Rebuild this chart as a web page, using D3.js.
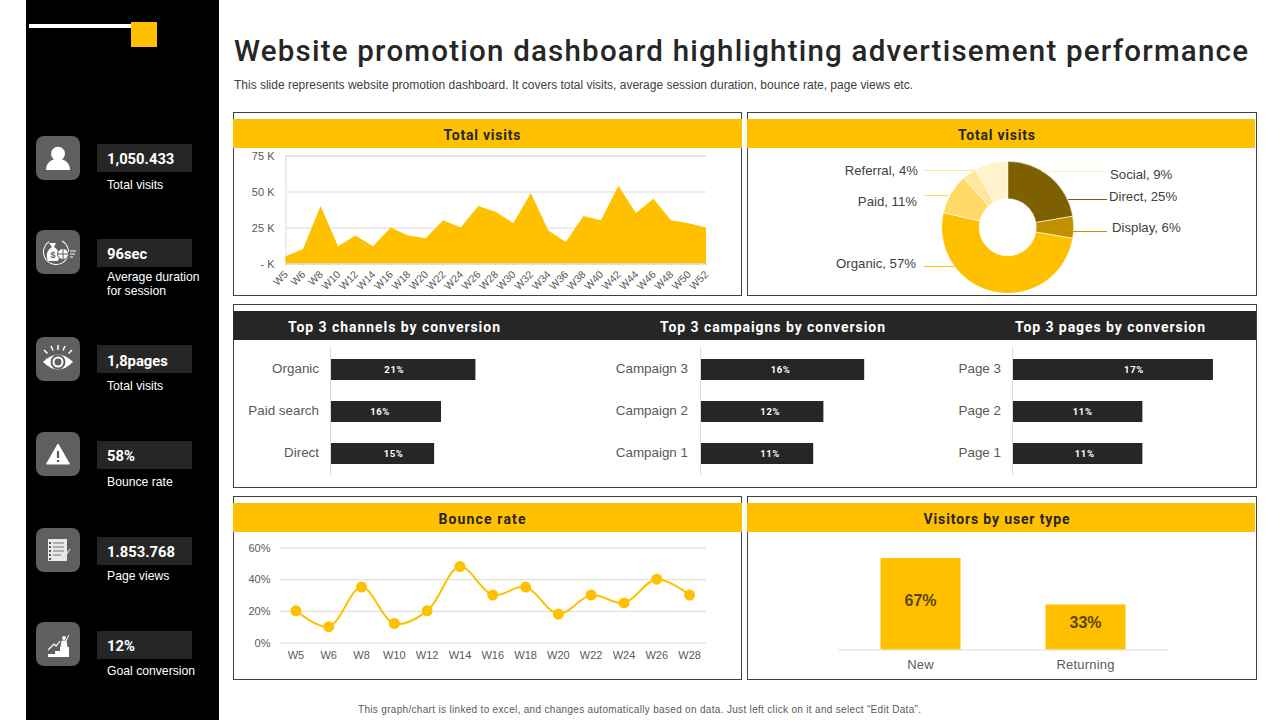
<!DOCTYPE html>
<html>
<head>
<meta charset="utf-8">
<script src="https://d3js.org/d3.v7.min.js"></script>
<style>
  body { margin: 0; background: #fff; }
  svg { display: block; }
  text { font-family: "Liberation Sans", Arial, sans-serif; }
  .din { font-family: Roboto, sans-serif; }
</style>
</head>
<body>
<script>
// chart data
var visitWeeks = ["W5","W6","W8","W10","W12","W14","W16","W18","W20","W22","W24","W26","W28","W30","W32","W34","W36","W38","W40","W42","W44","W46","W48","W50","W52"];
var visitValues = [5,10,40,12,19.5,12,25,19.5,17.5,30,25,40,36,28,49,23,15,33,30,54,35,45,30,28,25];
var visitTicks = [0,25,50,75];

var sourceNames = ["Direct","Display","Organic","Paid","Referral","Social"];
var sourceValues = [25,6,57,11,4,9];

var channelNames = ["Organic","Paid search","Direct"];
var channelValues = [21,16,15];
var campaignNames = ["Campaign 3","Campaign 2","Campaign 1"];
var campaignValues = [16,12,11];
var pageNames = ["Page 3","Page 2","Page 1"];
var pageValues = [17,11,11];

var bounceWeeks = ["W5","W6","W8","W10","W12","W14","W16","W18","W20","W22","W24","W26","W28"];
var bounceValues = [20,10,35,12,20,48,30,35,18,30,25,40,30];
var bounceTicks = [0,20,40,60];

var userTypes = ["New","Returning"];
var userValues = [67,33];

var kpiValues = ["1,050.433","96sec","1,8pages","58%","1.853.768","12%"];
var kpiLabels = [["Total visits"],["Average duration","for session"],["Total visits"],["Bounce rate"],["Page views"],["Goal conversion"]];

var YELLOW = "#ffc000", DARK = "#262626", GREY = "#595959", GRID = "#d9d9d9";

var svg = d3.select("body").append("svg").attr("width", 1280).attr("height", 720);

function label(g, x, y, str, size, fill, anchor) {
  return g.append("text").attr("x", x).attr("y", y).attr("dy", "0.35em")
    .attr("font-size", size).attr("fill", fill).attr("text-anchor", anchor || "start").text(str);
}

/* sidebar */
svg.append("rect").attr("x", 26).attr("y", 0).attr("width", 193).attr("height", 720).attr("fill", "#000");
svg.append("rect").attr("x", 29).attr("y", 24).attr("width", 103).attr("height", 4).attr("fill", "#fff");
svg.append("rect").attr("x", 131).attr("y", 22).attr("width", 26).attr("height", 25).attr("fill", YELLOW);

var tileY = [136,230,337,432,528,622];
var boxY = [144,239,345,441,537,631];
var kpiTextY = [158.5,254,361,455.5,551.5,645.5];
var kpiLabelY = [184.5,277,385.5,481.5,575.5,671];

var icons = [
  function (g) {
    g.append("circle").attr("cy", -4.3).attr("r", 7).attr("fill", "#fff");
    g.append("path").attr("d", "M-12,12 C-12,4 -6,2 -3,1 L3,1 C6,2 12,4 12,12 Z").attr("fill", "#fff");
  },
  function (g) {
    g.append("path").attr("d", d3.arc()({innerRadius: 12, outerRadius: 13, startAngle: 0.5, endAngle: 5.7})).attr("fill", "#fff").attr("transform", "translate(-2,0)");
    g.append("path").attr("d", "M-10,9 C-13,3 -10,-3 -6,-5 L-9,-9 L-2,-9 L-4,-5 C0,-3 3,3 0,9 Z").attr("fill", "#fff");
    g.append("circle").attr("cx", 5).attr("cy", 2).attr("r", 5.5).attr("fill", "#fff").attr("stroke", "#5f5f5f");
    g.append("path").attr("d", "M0,2 H10 M5,-3 V7").attr("stroke", "#5f5f5f").attr("fill", "none");
    g.append("path").attr("d", "M12,-1 H18 M12,2 H17 M12,5 H15").attr("stroke", "#fff").attr("fill", "none");
    label(g, -5, 3, "$", 9, "#5f5f5f", "middle").attr("font-weight", "bold");
  },
  function (g) {
    g.append("path").attr("d", "M-15,3 Q0,-12 15,3 Q0,18 -15,3 Z").attr("fill", "#fff");
    g.append("circle").attr("cy", 3).attr("r", 6.5).attr("fill", "none").attr("stroke", "#5f5f5f").attr("stroke-width", 2);
    g.append("circle").attr("cy", 3).attr("r", 3.5).attr("fill", "#5f5f5f");
    g.append("path").attr("d", "M0,-14 V-9 M-7,-13 L-5,-8.5 M7,-13 L5,-8.5 M-14,-9 L-10.5,-5.5 M14,-9 L10.5,-5.5")
      .attr("stroke", "#fff").attr("stroke-width", 1.5);
  },
  function (g) {
    g.append("path").attr("d", "M0,-10 L11.5,10 L-11.5,10 Z").attr("fill", "#fff").attr("stroke", "#fff").attr("stroke-linejoin", "round");
    g.append("path").attr("d", "M0,-3 V4").attr("stroke", "#5f5f5f").attr("stroke-width", 2.2);
    g.append("circle").attr("cy", 7).attr("r", 1.3).attr("fill", "#5f5f5f");
  },
  function (g) {
    g.append("rect").attr("x", -10).attr("y", -11).attr("width", 19).attr("height", 22).attr("fill", "#e8e8e8");
    g.append("path").attr("d", "M-5,-7 H6 M-5,-3 H6 M-5,1 H6 M-5,5 H3").attr("stroke", "#777").attr("stroke-width", 1.2);
    g.append("path").attr("d", "M-9,-7 H-7 M-9,-3 H-7 M-9,1 H-7 M-9,5 H-7 M-9,9 H-7").attr("stroke", "#555").attr("stroke-width", 2);
    g.append("path").attr("d", "M6,8 L12,-1").attr("stroke", "#ddd").attr("stroke-width", 1.2);
  },
  function (g) {
    g.append("path").attr("d", "M-10,13 V10 H-3 V7 H2 V3 H11 V13 Z").attr("fill", "#fff");
    g.append("path").attr("d", "M-10,6 L-4,0 L-2,2 L2,-3").attr("stroke", "#fff").attr("fill", "none").attr("stroke-width", 1.2);
    g.append("circle").attr("cx", 6).attr("cy", -6).attr("r", 2).attr("fill", "#fff");
    g.append("path").attr("d", "M3,3 L4,-3 L8,-3 L9,3 Z M8,-3 L11,-9").attr("fill", "#fff").attr("stroke", "#fff");
  }
];

kpiValues.forEach(function (v, i) {
  svg.append("rect").attr("x", 36).attr("y", tileY[i]).attr("width", 44).attr("height", 44).attr("rx", 8).attr("fill", "#5f5f5f");
  icons[i](svg.append("g").attr("transform", "translate(58," + (tileY[i] + 22) + ")"));
  svg.append("rect").attr("x", 97).attr("y", boxY[i]).attr("width", 95).attr("height", 28).attr("fill", DARK);
  label(svg, 107, kpiTextY[i], v, 14.8, "#fff").attr("class", "din").attr("font-weight", 700);
  kpiLabels[i].forEach(function (t, j) {
    label(svg, 107, kpiLabelY[i] + j * 14, t, 12.2, "#fff");
  });
});

/* title block */
label(svg, 234, 50.5, "Website promotion dashboard highlighting advertisement performance", 29.5, DARK)
  .attr("class", "din").attr("font-weight", 500).attr("textLength", 1014).attr("lengthAdjust", "spacing");
label(svg, 234, 85, "This slide represents website promotion dashboard. It covers total visits, average session duration, bounce rate, page views etc.", 12, "#404040")
  .attr("textLength", 679).attr("lengthAdjust", "spacing");
label(svg, 358, 709, "This graph/chart is linked to excel, and changes automatically based on data. Just left click on it and select \u201CEdit Data\u201D.", 10, GREY)
  .attr("textLength", 563).attr("lengthAdjust", "spacing");

/* panels */
function panel(x, y, w, h) {
  svg.append("rect").attr("x", x + 0.5).attr("y", y + 0.5).attr("width", w).attr("height", h)
    .attr("fill", "none").attr("stroke", "#404040");
}
function header(x, y, w, fill) {
  svg.append("rect").attr("x", x).attr("y", y).attr("width", w).attr("height", 29).attr("fill", fill);
}
function headerText(cx, y, str, fill, len) {
  label(svg, cx, y, str, 14, fill, "middle").attr("class", "din").attr("font-weight", 700)
    .attr("textLength", len).attr("lengthAdjust", "spacing");
}

panel(233, 112, 508, 183);
panel(747, 112, 509, 183);
panel(233, 304, 1023, 183);
panel(233, 496, 508, 183);
panel(747, 496, 509, 183);

header(233, 119, 509, YELLOW);
header(747, 119, 508, YELLOW);
header(233, 311, 1023, DARK);
header(233, 503, 509, YELLOW);
header(747, 503, 508, YELLOW);

headerText(482, 135.5, "Total visits", DARK, 77);
headerText(996.5, 135.5, "Total visits", DARK, 77);
headerText(394, 327.5, "Top 3 channels by conversion", "#fff", 212);
headerText(772.5, 327.5, "Top 3 campaigns by conversion", "#fff", 225);
headerText(1110, 327.5, "Top 3 pages by conversion", "#fff", 190);
headerText(482, 519.5, "Bounce rate", DARK, 87);
headerText(996.5, 519.5, "Visitors by user type", DARK, 146);

function styleAxis(g, size) {
  g.selectAll("text").attr("fill", GREY).attr("font-size", size);
  g.selectAll("line").attr("stroke", GRID);
  g.selectAll(".domain").attr("stroke", GRID);
}

/* total visits area */
(function () {
  var x = d3.scalePoint().domain(visitWeeks).range([285.5, 706]);
  var y = d3.scaleLinear().domain([0, 75]).range([263.5, 155.5]);

  var grid = svg.append("g").attr("transform", "translate(285.5,0)")
    .call(d3.axisLeft(y).tickValues(visitTicks).tickSize(-420.5).tickPadding(11)
      .tickFormat(function (d) { return d === 0 ? "- K" : d + " K"; }));
  styleAxis(grid, 11);

  svg.append("path").datum(visitValues)
    .attr("fill", YELLOW)
    .attr("d", d3.area().x(function (d, i) { return x(visitWeeks[i]); }).y0(y(0)).y1(function (d) { return y(d); }));

  var ax = svg.append("g").attr("transform", "translate(0,263.5)")
    .call(d3.axisBottom(x).tickSize(2).tickSizeOuter(0));
  styleAxis(ax, 10.5);
  ax.selectAll("text").attr("text-anchor", "end").attr("x", 0).attr("y", 0).attr("dy", "0.35em")
    .attr("transform", "translate(0,9) rotate(-45)");
})();

/* traffic source donut */
(function () {
  var colors = ["#7f6000","#bf9000",YELLOW,"#ffd966","#ffe699","#fff2cc"];
  // leader line ends and label spots for each slice, in slice order
  var leaders = [
    {x1: 1068, x2: 1107, y: 199.5, tx: 1109, ty: 196.5, a: "start", text: "Direct, 25%"},
    {x1: 1073, x2: 1107, y: 231.5, tx: 1112, ty: 227.5, a: "start", text: "Display, 6%"},
    {x1: 954, x2: 924, y: 266.5, tx: 916, ty: 263, a: "end", text: "Organic, 57%"},
    {x1: 949, x2: 924, y: 195.5, tx: 917, ty: 201, a: "end", text: "Paid, 11%"},
    {x1: 975, x2: 924, y: 170.5, tx: 918, ty: 170, a: "end", text: "Referral,  4%"},
    {x1: 1042, x2: 1107, y: 171.5, tx: 1110, ty: 174, a: "start", text: "Social, 9%"}
  ];
  var pie = d3.pie().sort(null)(sourceValues);
  var arc = d3.arc().innerRadius(28.5).outerRadius(66);
  var g = svg.append("g").attr("transform", "translate(1007.7,227.3)");
  g.selectAll("path").data(pie).join("path")
    .attr("d", arc)
    .attr("fill", function (d, i) { return colors[i]; })
    .attr("stroke", "#fff").attr("stroke-width", 0.6);
  leaders.forEach(function (l, i) {
    svg.append("line").attr("x1", l.x1).attr("x2", l.x2).attr("y1", l.y).attr("y2", l.y).attr("stroke", colors[i]);
    label(svg, l.tx, l.ty, l.text, 13.2, "#404040", l.a);
  });
})();

/* top 3 bars */
function topBars(names, values, axisX, pxMax, pctMax, labelEnd, shift) {
  var y = d3.scaleBand().domain(names).range([348.5, 474.5]).paddingInner(0.5).paddingOuter(0.25);
  var x = d3.scaleLinear().domain([0, pctMax]).range([axisX, axisX + pxMax]);

  svg.append("line").attr("x1", axisX - 0.5).attr("x2", axisX - 0.5).attr("y1", 347).attr("y2", 475).attr("stroke", GRID);
  svg.selectAll(null).data(values).join("rect")
    .attr("x", axisX).attr("y", function (d, i) { return y(names[i]); })
    .attr("width", function (d) { return x(d) - axisX; }).attr("height", y.bandwidth())
    .attr("fill", DARK);
  values.forEach(function (v, i) {
    label(svg, (axisX + x(v)) / 2 + shift[i], y(names[i]) + y.bandwidth() / 2, v + "%", 9.5, "#fff", "middle")
      .attr("class", "din").attr("font-weight", 700).attr("letter-spacing", 0.6);
    label(svg, labelEnd, y(names[i]) + y.bandwidth() / 2 - 1, names[i], 13.4, GREY, "end");
  });
}
topBars(channelNames, channelValues, 331, 171.9, 25, 319, [-9, -6, 11]);
topBars(campaignNames, campaignValues, 701, 204, 20, 688, [-2, 8, 13]);
topBars(pageNames, pageValues, 1013, 235.2, 20, 1001, [21, 5, 7]);

/* bounce rate line */
(function () {
  var x = d3.scaleBand().domain(bounceWeeks).range([279.5, 706]);
  var y = d3.scaleLinear().domain([0, 60]).range([642.5, 547.5]);
  var cx = function (w) { return x(w) + x.bandwidth() / 2; };

  var grid = svg.append("g").attr("transform", "translate(279.5,0)")
    .call(d3.axisLeft(y).tickValues(bounceTicks).tickSize(-426.5).tickPadding(9)
      .tickFormat(function (d) { return d + "%"; }));
  styleAxis(grid, 11);
  grid.select(".domain").remove();

  var ax = svg.append("g").attr("transform", "translate(0,642.5)")
    .call(d3.axisBottom(x).tickSize(0).tickPadding(9));
  styleAxis(ax, 11);
  ax.select(".domain").remove();

  svg.append("path").datum(bounceValues)
    .attr("fill", "none").attr("stroke", YELLOW).attr("stroke-width", 2)
    .attr("d", d3.line().x(function (d, i) { return cx(bounceWeeks[i]); }).y(function (d) { return y(d); })
      .curve(d3.curveCatmullRom.alpha(0.5)));
  svg.selectAll(null).data(bounceValues).join("circle")
    .attr("cx", function (d, i) { return cx(bounceWeeks[i]); })
    .attr("cy", function (d) { return y(d); })
    .attr("r", 5.5).attr("fill", YELLOW);
})();

/* visitors by type */
(function () {
  var x = d3.scaleBand().domain(userTypes).range([838, 1168]).paddingInner(0.515).paddingOuter(0.2575);
  var y = d3.scaleLinear().domain([0, 100]).range([649.5, 513]);
  var labelLift = [3, 4.5];

  svg.selectAll(null).data(userValues).join("rect")
    .attr("x", function (d, i) { return x(userTypes[i]); })
    .attr("y", function (d) { return y(d); })
    .attr("width", x.bandwidth())
    .attr("height", function (d) { return y(0) - y(d); })
    .attr("fill", YELLOW);

  var ax = svg.append("g").attr("transform", "translate(0,649.5)")
    .call(d3.axisBottom(x).tickSize(0).tickSizeOuter(0).tickPadding(10.5));
  styleAxis(ax, 13);
  ax.selectAll("text").attr("letter-spacing", 0.2);

  userValues.forEach(function (v, i) {
    label(svg, x(userTypes[i]) + x.bandwidth() / 2, (y(v) + y(0)) / 2 - labelLift[i], v + "%", 16, "#5a4500", "middle").attr("font-weight", "bold");
  });
})();
</script>
</body>
</html>
